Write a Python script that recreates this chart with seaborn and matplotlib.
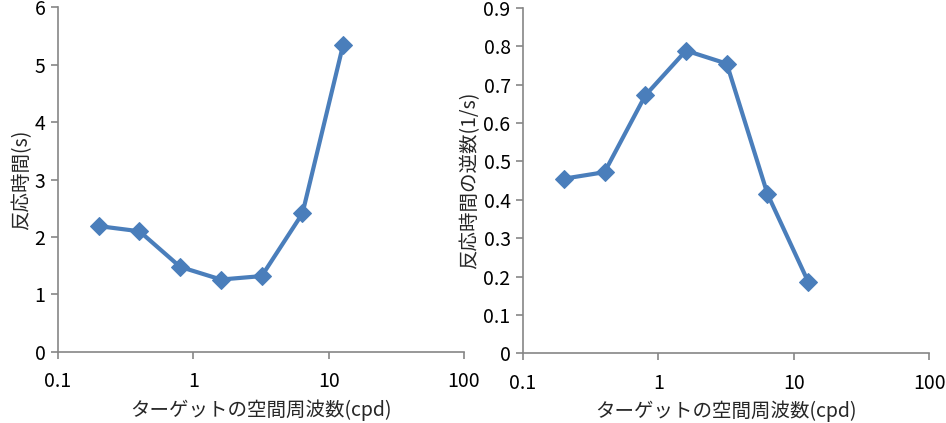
import matplotlib
matplotlib.use("Agg")
import matplotlib.pyplot as plt
import matplotlib.ticker as mticker
import pandas as pd
import seaborn as sns

freq_cpd = [0.2, 0.4, 0.8, 1.6, 3.2, 6.4, 12.8]
reaction_time = [2.19, 2.10, 1.48, 1.26, 1.32, 2.41, 5.35]
inverse_rt = [0.455, 0.472, 0.672, 0.789, 0.755, 0.415, 0.186]

xlabel = "ターゲットの空間周波数(cpd)"
ylabel_left = "反応時間(s)"
ylabel_right = "反応時間の逆数(1/s)"

sns.set_style("white")
plt.rcParams["font.family"] = ["Noto Sans CJK JP", "DejaVu Sans"]

blue = "#4a7ebb"
grey = "#868686"

df = pd.DataFrame({"freq": freq_cpd, "rt": reaction_time, "inv": inverse_rt})

fig = plt.figure(figsize=(9.46, 4.23), dpi=100)
ax1 = fig.add_axes([0.0613, 0.168, 0.4292, 0.815])
ax2 = fig.add_axes([0.5529, 0.165, 0.4292, 0.816])

panels = [
    (ax1, "rt", ylabel_left, 6, 1),
    (ax2, "inv", ylabel_right, 0.9, 0.1),
]

for ax, col, ylab, ymax, step in panels:
    sns.lineplot(data=df, x="freq", y=col, ax=ax, color=blue, linewidth=3,
                 marker="D", markersize=9, markeredgecolor=blue)
    ax.set_xscale("log")
    ax.set_xlim(0.1, 100)
    ax.set_ylim(0, ymax)
    ax.yaxis.set_major_locator(mticker.MultipleLocator(step))
    ax.xaxis.set_major_locator(mticker.LogLocator(base=10, numticks=10))
    ax.xaxis.set_minor_locator(mticker.NullLocator())
    ax.xaxis.set_major_formatter(mticker.FuncFormatter(lambda v, p: "%g" % v))
    ax.yaxis.set_major_formatter(mticker.FuncFormatter(lambda v, p: "%g" % round(v, 2)))
    for side in ["top", "right"]:
        ax.spines[side].set_visible(False)
    for side in ["left", "bottom"]:
        ax.spines[side].set_color(grey)
        ax.spines[side].set_linewidth(1.2)
    ax.tick_params(axis="both", which="major", direction="out", length=5,
                   width=1.2, color=grey, labelsize=14, labelcolor="black",
                   left=True, bottom=True, pad=4)
    ax.tick_params(axis="x", pad=9)
    ax.set_xlabel(xlabel, fontsize=14, labelpad=5)
    ax.set_ylabel(ylab, fontsize=14, labelpad=2)
    for lab in ax.get_xticklabels() + ax.get_yticklabels():
        lab.set_clip_on(False)

fig.savefig("out.png", dpi=100)
